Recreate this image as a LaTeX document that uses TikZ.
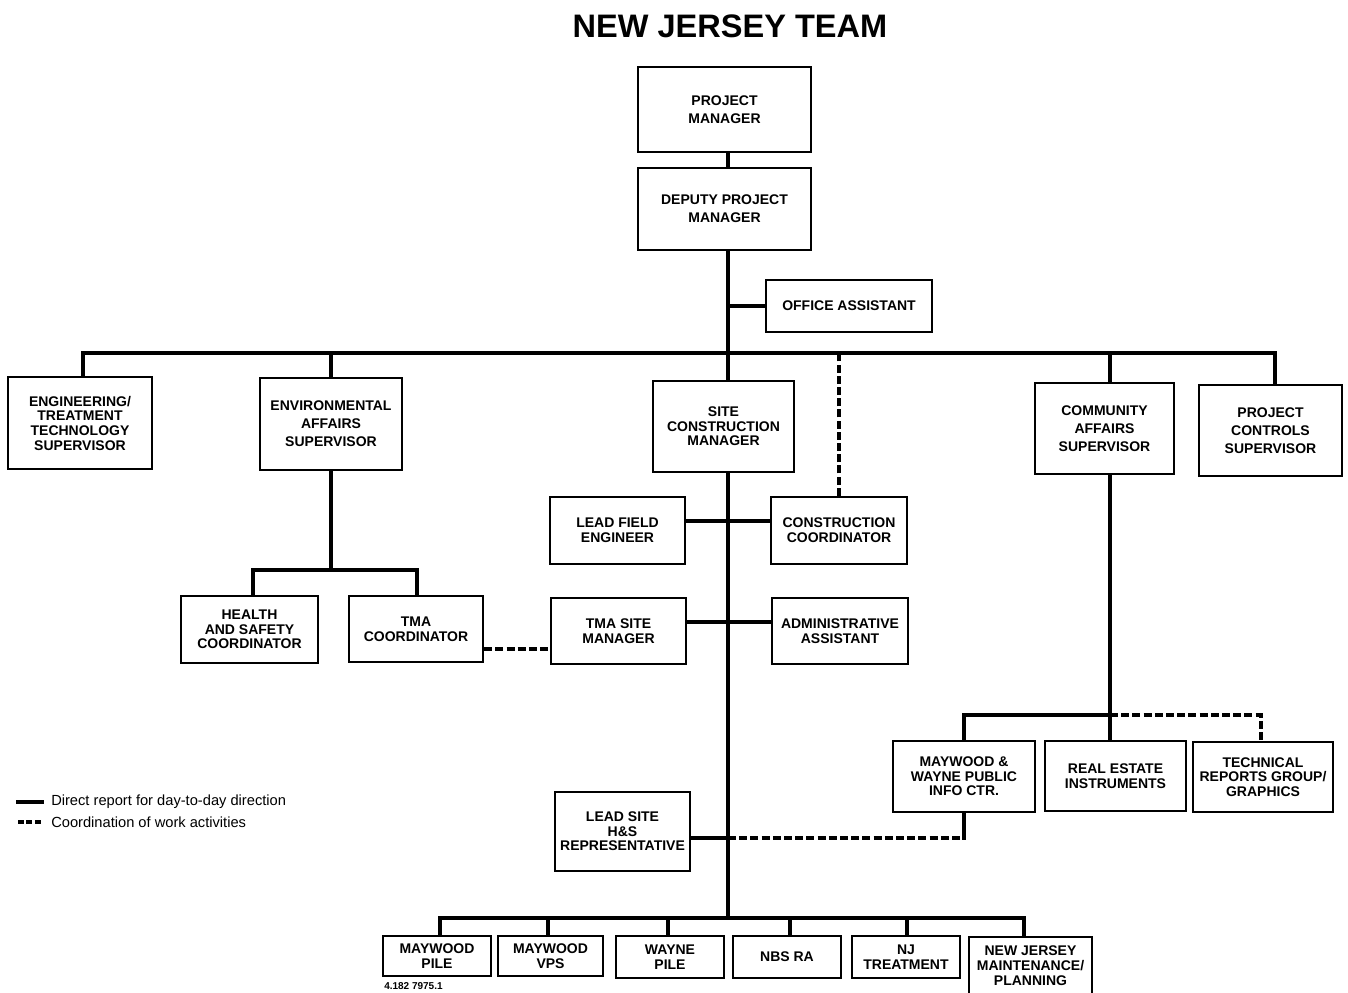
\documentclass[tikz,border=0pt]{standalone}
\usepackage{fontspec}
\setmainfont{Liberation Sans}
\usetikzlibrary{backgrounds}
\begin{document}
\begin{tikzpicture}[x=0.75pt,y=-0.75pt,
  box/.style={draw=black,line width=1.7pt,fill=white,rectangle,inner sep=0pt,align=center,
    font=\fontsize{10.5}{11}\selectfont\bfseries},
  loose/.style={font=\fontsize{10.5}{13.5}\selectfont\bfseries},
  sz/.style 2 args={minimum width=#1*0.75pt,minimum height=#2*0.75pt},
  link/.style={line width=2.6pt,line cap=rect},
  coord/.style={line width=2.6pt,dash pattern=on 6pt off 2.4pt},
  legtext/.style={anchor=west,inner sep=0pt,font=\fontsize{11}{12}\selectfont}]
\useasboundingbox (0,0) rectangle (1348,992);

\node[inner sep=0pt,font=\fontsize{24.4}{28}\selectfont\bfseries] (title) at (730,26) {NEW JERSEY TEAM};

% boxes
\node[box,loose,sz={173}{85}] (pm) at (724.5,109.5) {PROJECT\\MANAGER};
\node[box,loose,sz={173}{82}] (dpm) at (724.5,209) {DEPUTY PROJECT\\MANAGER};
\node[box,sz={166}{52}] (oa) at (849,306) {OFFICE ASSISTANT};
\node[box,sz={144}{92}] (eng) at (80,423) {ENGINEERING/\\TREATMENT\\TECHNOLOGY\\SUPERVISOR};
\node[box,loose,sz={142}{92}] (env) at (331,424) {ENVIRONMENTAL\\AFFAIRS\\SUPERVISOR};
\node[box,sz={141}{91}] (scm) at (723.5,426.5) {SITE\\CONSTRUCTION\\MANAGER};
\node[box,loose,sz={139}{91}] (ca) at (1104.5,428.5) {COMMUNITY\\AFFAIRS\\SUPERVISOR};
\node[box,loose,sz={143}{91}] (pc) at (1270.5,430.5) {PROJECT\\CONTROLS\\SUPERVISOR};
\node[box,sz={135}{67}] (lfe) at (617.5,530.5) {LEAD FIELD\\ENGINEER};
\node[box,sz={136}{67}] (cc) at (839,530.5) {CONSTRUCTION\\COORDINATOR};
\node[box,sz={135}{66}] (tsm) at (618.5,631) {TMA SITE\\MANAGER};
\node[box,sz={136}{66}] (aa) at (840,631) {ADMINISTRATIVE\\ASSISTANT};
\node[box,sz={137}{67}] (hsc) at (249.5,629.5) {HEALTH\\AND SAFETY\\COORDINATOR};
\node[box,sz={134}{66}] (tmac) at (416,629) {TMA\\COORDINATOR};
\node[box,sz={142}{71}] (mw) at (964,776.5) {MAYWOOD \&\\WAYNE PUBLIC\\INFO CTR.};
\node[box,sz={141}{70}] (re) at (1115.5,776) {REAL ESTATE\\INSTRUMENTS};
\node[box,sz={140}{70}] (tr) at (1263,777) {TECHNICAL\\REPORTS GROUP/\\GRAPHICS};
\node[box,sz={135}{79}] (lsh) at (622.5,831.5) {LEAD SITE\\H\&S\\REPRESENTATIVE};
\node[box,sz={108}{40}] (mp) at (437,956) {MAYWOOD\\PILE};
\node[box,sz={105}{40}] (mv) at (550.5,956) {MAYWOOD\\VPS};
\node[box,sz={108}{42}] (wp) at (670,957) {WAYNE\\PILE};
\node[box,sz={108}{42}] (nbs) at (787,957) {NBS RA};
\node[box,sz={108}{42}] (njt) at (906,957) {NJ\\TREATMENT};
\node[box,sz={123}{57}] (njm) at (1030.5,965.5) {NEW JERSEY\\MAINTENANCE/\\PLANNING};

% junction coordinates
\coordinate (bus) at (728,353);
\coordinate (bbus) at (728,918);
\coordinate (envbus) at (331,570);
\coordinate (cabus) at (1110,715);
\coordinate (lshj) at (728,838);
\coordinate (lfej) at (728,521);
\coordinate (tsmj) at (728,622);
\coordinate (tmaj) at (517,649);
% drop points on the buses
\coordinate (engx) at (83,353);
\coordinate (pcx) at (1275,353);
\coordinate (hscx) at (253,570);
\coordinate (tmacx) at (417,570);
\coordinate (trx) at (1261,715);
\coordinate (mpx) at (440,918);
\coordinate (mvx) at (548,918);
\coordinate (wpx) at (668,918);
\coordinate (nbsx) at (790,918);
\coordinate (njtx) at (907,918);
\coordinate (njmx) at (1024,918);

% legend
\coordinate (l1a) at (18,802); \coordinate (l1b) at (42,802);
\coordinate (l2a) at (18,822); \coordinate (l2b) at (42,822);
\node[legtext] (leg1) at (51,802) {Direct report for day-to-day direction};
\node[legtext] (leg2) at (51,822) {Coordination of work activities};
\node[anchor=west,inner sep=0pt,font=\fontsize{7.5}{8}\selectfont\bfseries] (code) at (384,986) {4.182 7975.1};

\begin{scope}[on background layer]
  \draw[link] (l1a) -- (l1b);
  \draw[line width=2.6pt,dash pattern=on 4.5pt off 1.8pt] (l2a) -- (l2b);
  % spine
  \draw[link] (pm.south -| bus) -- (dpm.north -| bus);
  \draw[link] (dpm.south -| bus) -- (bbus);
  \draw[link] (oa.west) -- (oa.west -| bus);
  % top bus
  \draw[link] (engx) -- (pcx);
  \draw[link] (eng.north -| engx) -- (engx);
  \draw[link] (env.north) -- (env.north |- bus);
  \draw[link] (ca.north -| cabus) -- (cabus |- bus);
  \draw[link] (pc.north -| pcx) -- (pcx);
  \draw[coord] (cc.north) -- (cc.north |- bus);
  % site construction branch
  \draw[link] (lfe.east |- lfej) -- (cc.west |- lfej);
  \draw[link] (tsm.east |- tsmj) -- (aa.west |- tsmj);
  % environmental branch
  \draw[link] (env.south) -- (envbus);
  \draw[link] (hscx) -- (tmacx);
  \draw[link] (hsc.north -| hscx) -- (hscx);
  \draw[link] (tmac.north -| tmacx) -- (tmacx);
  \draw[coord] (tmac.east |- tmaj) -- (tsm.west |- tmaj);
  % community branch
  \draw[link] (ca.south -| cabus) -- (cabus);
  \draw[link] (mw.north |- cabus) -- (cabus);
  \draw[link] (mw.north) -- (mw.north |- cabus);
  \draw[link] (cabus) -- (re.north -| cabus);
  \draw[coord] (cabus) -- (trx) -- (tr.north -| trx);
  % lead site H&S
  \draw[link] (lsh.east |- lshj) -- (lshj);
  \draw[coord] (lshj) -- (mw.south |- lshj);
  \draw[link] (mw.south |- lshj) -- (mw.south);
  % bottom bus
  \draw[link] (mpx) -- (njmx);
  \draw[link] (mp.north -| mpx) -- (mpx);
  \draw[link] (mv.north -| mvx) -- (mvx);
  \draw[link] (wp.north -| wpx) -- (wpx);
  \draw[link] (nbs.north -| nbsx) -- (nbsx);
  \draw[link] (njt.north -| njtx) -- (njtx);
  \draw[link] (njm.north -| njmx) -- (njmx);
\end{scope}
\end{tikzpicture}
\end{document}
